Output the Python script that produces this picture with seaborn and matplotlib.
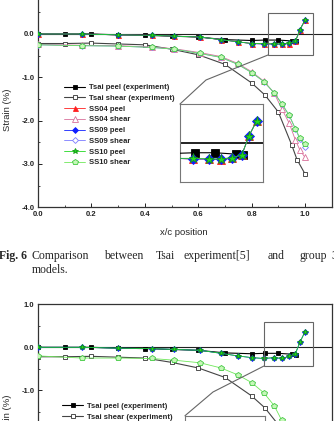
import matplotlib
matplotlib.use("Agg")
import matplotlib.pyplot as plt
import seaborn as sns
from matplotlib.lines import Line2D
from matplotlib.patches import Rectangle

sns.set_style("ticks")
plt.rcParams["font.family"] = ["Liberation Sans", "DejaVu Sans"]

# ---------------- data ----------------
tsai_peel_x = [0.0, 0.1, 0.2, 0.3, 0.4, 0.5, 0.6, 0.7, 0.8, 0.85, 0.9, 0.95, 0.967]
tsai_peel_y = [0.0, 0.0, 0.0, -0.02, -0.03, -0.05, -0.07, -0.13, -0.15, -0.14, -0.14, -0.16, -0.17]
tsai_shear_x = [0.0, 0.1, 0.2, 0.3, 0.4, 0.5, 0.6, 0.7, 0.8, 0.85, 0.9, 0.95, 0.97, 1.0]
tsai_shear_y = [-0.22, -0.22, -0.21, -0.23, -0.25, -0.35, -0.48, -0.70, -1.13, -1.41, -1.80, -2.56, -2.90, -3.23]

model_x = [0.0, 0.164, 0.3, 0.426, 0.51, 0.607, 0.685, 0.748, 0.8, 0.846, 0.885, 0.913, 0.941, 0.964, 0.981, 1.0]
ss04_peel = [0.0, 0.0, -0.02, -0.03, -0.05, -0.07, -0.13, -0.18, -0.22, -0.23, -0.23, -0.24, -0.22, -0.17, 0.10, 0.32]
ss09_peel = [0.0, 0.0, -0.02, -0.03, -0.05, -0.07, -0.13, -0.18, -0.22, -0.23, -0.23, -0.23, -0.21, -0.17, 0.10, 0.32]
ss10_peel = [0.0, 0.0, -0.02, -0.03, -0.05, -0.07, -0.13, -0.18, -0.22, -0.22, -0.23, -0.23, -0.21, -0.17, 0.10, 0.32]
ss04_shear = [-0.24, -0.26, -0.27, -0.30, -0.34, -0.43, -0.52, -0.68, -0.87, -1.09, -1.37, -1.73, -2.06, -2.45, -2.68, -2.85]
ss09_shear = [-0.25, -0.27, -0.28, -0.31, -0.35, -0.45, -0.54, -0.70, -0.89, -1.10, -1.36, -1.61, -1.88, -2.19, -2.43, -2.60]
ss10_shear = [-0.25, -0.27, -0.28, -0.31, -0.35, -0.45, -0.54, -0.70, -0.89, -1.10, -1.36, -1.61, -1.88, -2.19, -2.40, -2.55]

# second (lower, partly visible) chart
low_peel = [0.0, 0.0, -0.02, -0.03, -0.05, -0.07, -0.14, -0.20, -0.24, -0.26, -0.24, -0.26, -0.21, -0.15, 0.12, 0.36]
low_shear = [-0.20, -0.25, -0.25, -0.26, -0.30, -0.36, -0.48, -0.64, -0.82, -1.06, -1.36, -1.70, -2.05, -2.40, -2.65, -2.85]

series_labels = ["Tsai peel (experiment)", "Tsai shear (experiment)", "SS04 peel", "SS04 shear",
                 "SS09 peel", "SS09 shear", "SS10 peel", "SS10 shear"]
xtick_vals = [0.0, 0.2, 0.4, 0.6, 0.8, 1.0]
xtick_labels = ["0.0", "0.2", "0.4", "0.6", "0.8", "1.0"]
ytick_vals = [1.0, 0.0, -1.0, -2.0, -3.0, -4.0]
ytick_labels = ["1.0", "0.0", "-1.0", "-2.0", "-3.0", "-4.0"]

# ---------------- styles ----------------
STY = {
    "Tsai peel (experiment)": dict(color="black", marker="s", mfc="black", mec="black", lw=0.8, ms=3.2),
    "Tsai shear (experiment)": dict(color="#444444", marker="s", mfc="white", mec="#333333", lw=0.8, ms=3.2),
    "SS04 peel": dict(color="#ff2020", marker="^", mfc="#ff2020", mec="#ff2020", lw=0.6, ms=3.6),
    "SS04 shear": dict(color="#d8709a", marker="^", mfc="white", mec="#d8709a", lw=0.6, ms=3.8),
    "SS09 peel": dict(color="#1020ff", marker="D", mfc="#1020ff", mec="#1020ff", lw=0.6, ms=3.0),
    "SS09 shear": dict(color="#7b7bff", marker="D", mfc="white", mec="#7b7bff", lw=0.6, ms=3.0),
    "SS10 peel": dict(color="#22d822", marker="*", mfc="#22d822", mec="#139913", lw=0.6, ms=4.2),
    "SS10 shear": dict(color="#6fe85a", marker="p", mfc="#c6f7b8", mec="#3fc83f", lw=0.6, ms=3.8),
}

W, H = 334, 421
fig = plt.figure(figsize=(W / 100, H / 100), dpi=100)
fig.patch.set_facecolor("white")


def add_axes_px(left, top, right, bottom):
    return fig.add_axes([left / W, 1 - bottom / H, (right - left) / W, (bottom - top) / H])


def draw(ax, x, y, name, scale=1.0, label=True, lab=None):
    s = STY[name]
    sns.lineplot(x=x, y=y, ax=ax, color=s["color"], linewidth=s["lw"], marker=s["marker"],
                 markersize=s["ms"] * scale, markerfacecolor=s["mfc"], markeredgecolor=s["mec"],
                 markeredgewidth=0.6, label=(lab or name) if label else None,
                 legend=label, sort=False, zorder=3)


def style_main(ax):
    ax.set_xlim(0.0, 1.1)
    ax.set_ylim(-4.0, 1.0)
    ax.set_xticks(xtick_vals)
    ax.set_xticklabels(xtick_labels, fontweight="bold", fontsize=5.5)
    ax.set_yticks(ytick_vals)
    ax.set_yticklabels(ytick_labels, fontweight="bold", fontsize=5.5)
    ax.set_xticks([0.1, 0.3, 0.5, 0.7, 0.9, 1.1], minor=True)
    ax.set_yticks([0.5, -0.5, -1.5, -2.5, -3.5], minor=True)
    ax.tick_params(which="major", direction="in", length=3, width=0.7, pad=2.5, colors="#222222")
    ax.tick_params(which="minor", direction="in", length=1.5, width=0.6)
    for sp in ax.spines.values():
        sp.set_linewidth(0.9)
        sp.set_color("#333333")
    ax.axhline(0.0, color="#222222", lw=0.8, zorder=2)


def style_inset(ax):
    ax.set_xticks([])
    ax.set_yticks([])
    ax.set_xlabel("")
    ax.set_ylabel("")
    for sp in ax.spines.values():
        sp.set_linewidth(0.8)
        sp.set_color("#777777")


LEG = dict(frameon=False, borderpad=0, borderaxespad=0, handlelength=2.8, handletextpad=0.45,
           labelspacing=0.44, prop={"size": 5.5, "weight": "bold"})

# ---------------- upper chart ----------------
ax1 = add_axes_px(38, -9.3, 331.7, 207.2)
draw(ax1, tsai_peel_x, tsai_peel_y, series_labels[0])
draw(ax1, tsai_shear_x, tsai_shear_y, series_labels[1])
draw(ax1, model_x, ss04_peel, series_labels[2])
draw(ax1, model_x, ss04_shear, series_labels[3])
draw(ax1, model_x, ss09_peel, series_labels[4])
draw(ax1, model_x, ss09_shear, series_labels[5])
draw(ax1, model_x, ss10_peel, series_labels[6])
draw(ax1, model_x, ss10_shear, series_labels[7])
style_main(ax1)
ax1.set_xlabel("x/c position", fontsize=6.8)
ax1.xaxis.set_label_coords((184 - 38) / 293.7, -(232 - 207.2) / 216.5)
ax1.xaxis.label.set_va("center")
ax1.set_ylabel("Strain (%)", fontsize=6.8)
ax1.yaxis.set_label_coords((8 - 38) / 293.7, (207.2 - 110) / 216.5)
ax1.yaxis.label.set_va("center")
h, l = ax1.get_legend_handles_labels()
ax1.legend(h, l, loc="upper left", bbox_to_anchor=(64 / W, 1 - 84.0 / H),
           bbox_transform=fig.transFigure, **LEG)
ax1.add_patch(Rectangle((0.861, -0.485), 0.169, 0.97, fill=False, ec="#666666", lw=0.8, zorder=4))

ins1 = add_axes_px(180, 104, 263, 182)
draw(ins1, tsai_peel_x, tsai_peel_y, series_labels[0], 1.6, False)
draw(ins1, model_x, ss04_peel, series_labels[2], 1.6, False)
draw(ins1, model_x, ss09_peel, series_labels[4], 1.6, False)
draw(ins1, model_x, ss10_peel, series_labels[6], 1.6, False)
ins1.axhline(0.0, color="#222222", lw=1.4, zorder=2)
ins1.set_xlim(0.815, 1.015)
ins1.set_ylim(-0.56, 0.56)
style_inset(ins1)

fig.add_artist(Line2D([180 / W, 206 / W, 268 / W], [1 - 104 / H, 1 - 80 / H, 1 - 55 / H],
                      color="#666666", lw=0.8, transform=fig.transFigure))

# ---------------- caption ----------------
serif = ["Liberation Serif", "DejaVu Serif"]
CAP = 8.5
fig.text(27 / W, 1 - 256 / H, "Fig. 6", family=serif, fontweight="bold", fontsize=CAP,
         ha="right", va="center")
for word, px in [("Comparison", 32), ("between", 104), ("Tsai", 156), ("experiment[5]", 184),
                 ("and", 268), ("group", 300), ("3", 331)]:
    fig.text(px / W, 1 - 256 / H, word, family=serif, fontsize=CAP, ha="left", va="center")
fig.text(32 / W, 1 - 270 / H, "models.", family=serif, fontsize=CAP, ha="left", va="center")

# ---------------- lower chart (partly visible) ----------------
ax2 = add_axes_px(38, 304.3, 331.7, 519.3)
draw(ax2, tsai_peel_x, tsai_peel_y, series_labels[0])
draw(ax2, tsai_shear_x, tsai_shear_y, series_labels[1])
draw(ax2, model_x, low_peel, "SS09 peel", label=False)
draw(ax2, model_x, low_peel, "SS10 peel", label=False)
draw(ax2, model_x, low_shear, "SS10 shear", label=False)
style_main(ax2)
ax2.set_xlabel("")
ax2.set_ylabel("Strain (%)", fontsize=6.8)
ax2.yaxis.set_label_coords((7 - 38) / 293.7, (519.3 - 416) / 215)
ax2.yaxis.label.set_va("center")
h2, l2 = ax2.get_legend_handles_labels()
ax2.legend(h2[:2], l2[:2], loc="upper left", bbox_to_anchor=(62 / W, 1 - 402.5 / H),
           bbox_transform=fig.transFigure, **LEG)
ax2.add_patch(Rectangle((0.846, -0.44), 0.184, 1.02, fill=False, ec="#666666", lw=0.8, zorder=4))

ins2 = add_axes_px(185, 415.7, 265, 494)
draw(ins2, model_x, low_peel, "SS10 peel", 1.6, False)
ins2.axhline(0.0, color="#222222", lw=1.4, zorder=2)
ins2.set_xlim(0.815, 1.015)
ins2.set_ylim(-0.56, 0.56)
style_inset(ins2)

fig.add_artist(Line2D([185 / W, 213 / W, 264 / W], [1 - 415.7 / H, 1 - 392 / H, 1 - 366 / H],
                      color="#666666", lw=0.8, transform=fig.transFigure))

fig.savefig("out.png", dpi=100, facecolor="white")
